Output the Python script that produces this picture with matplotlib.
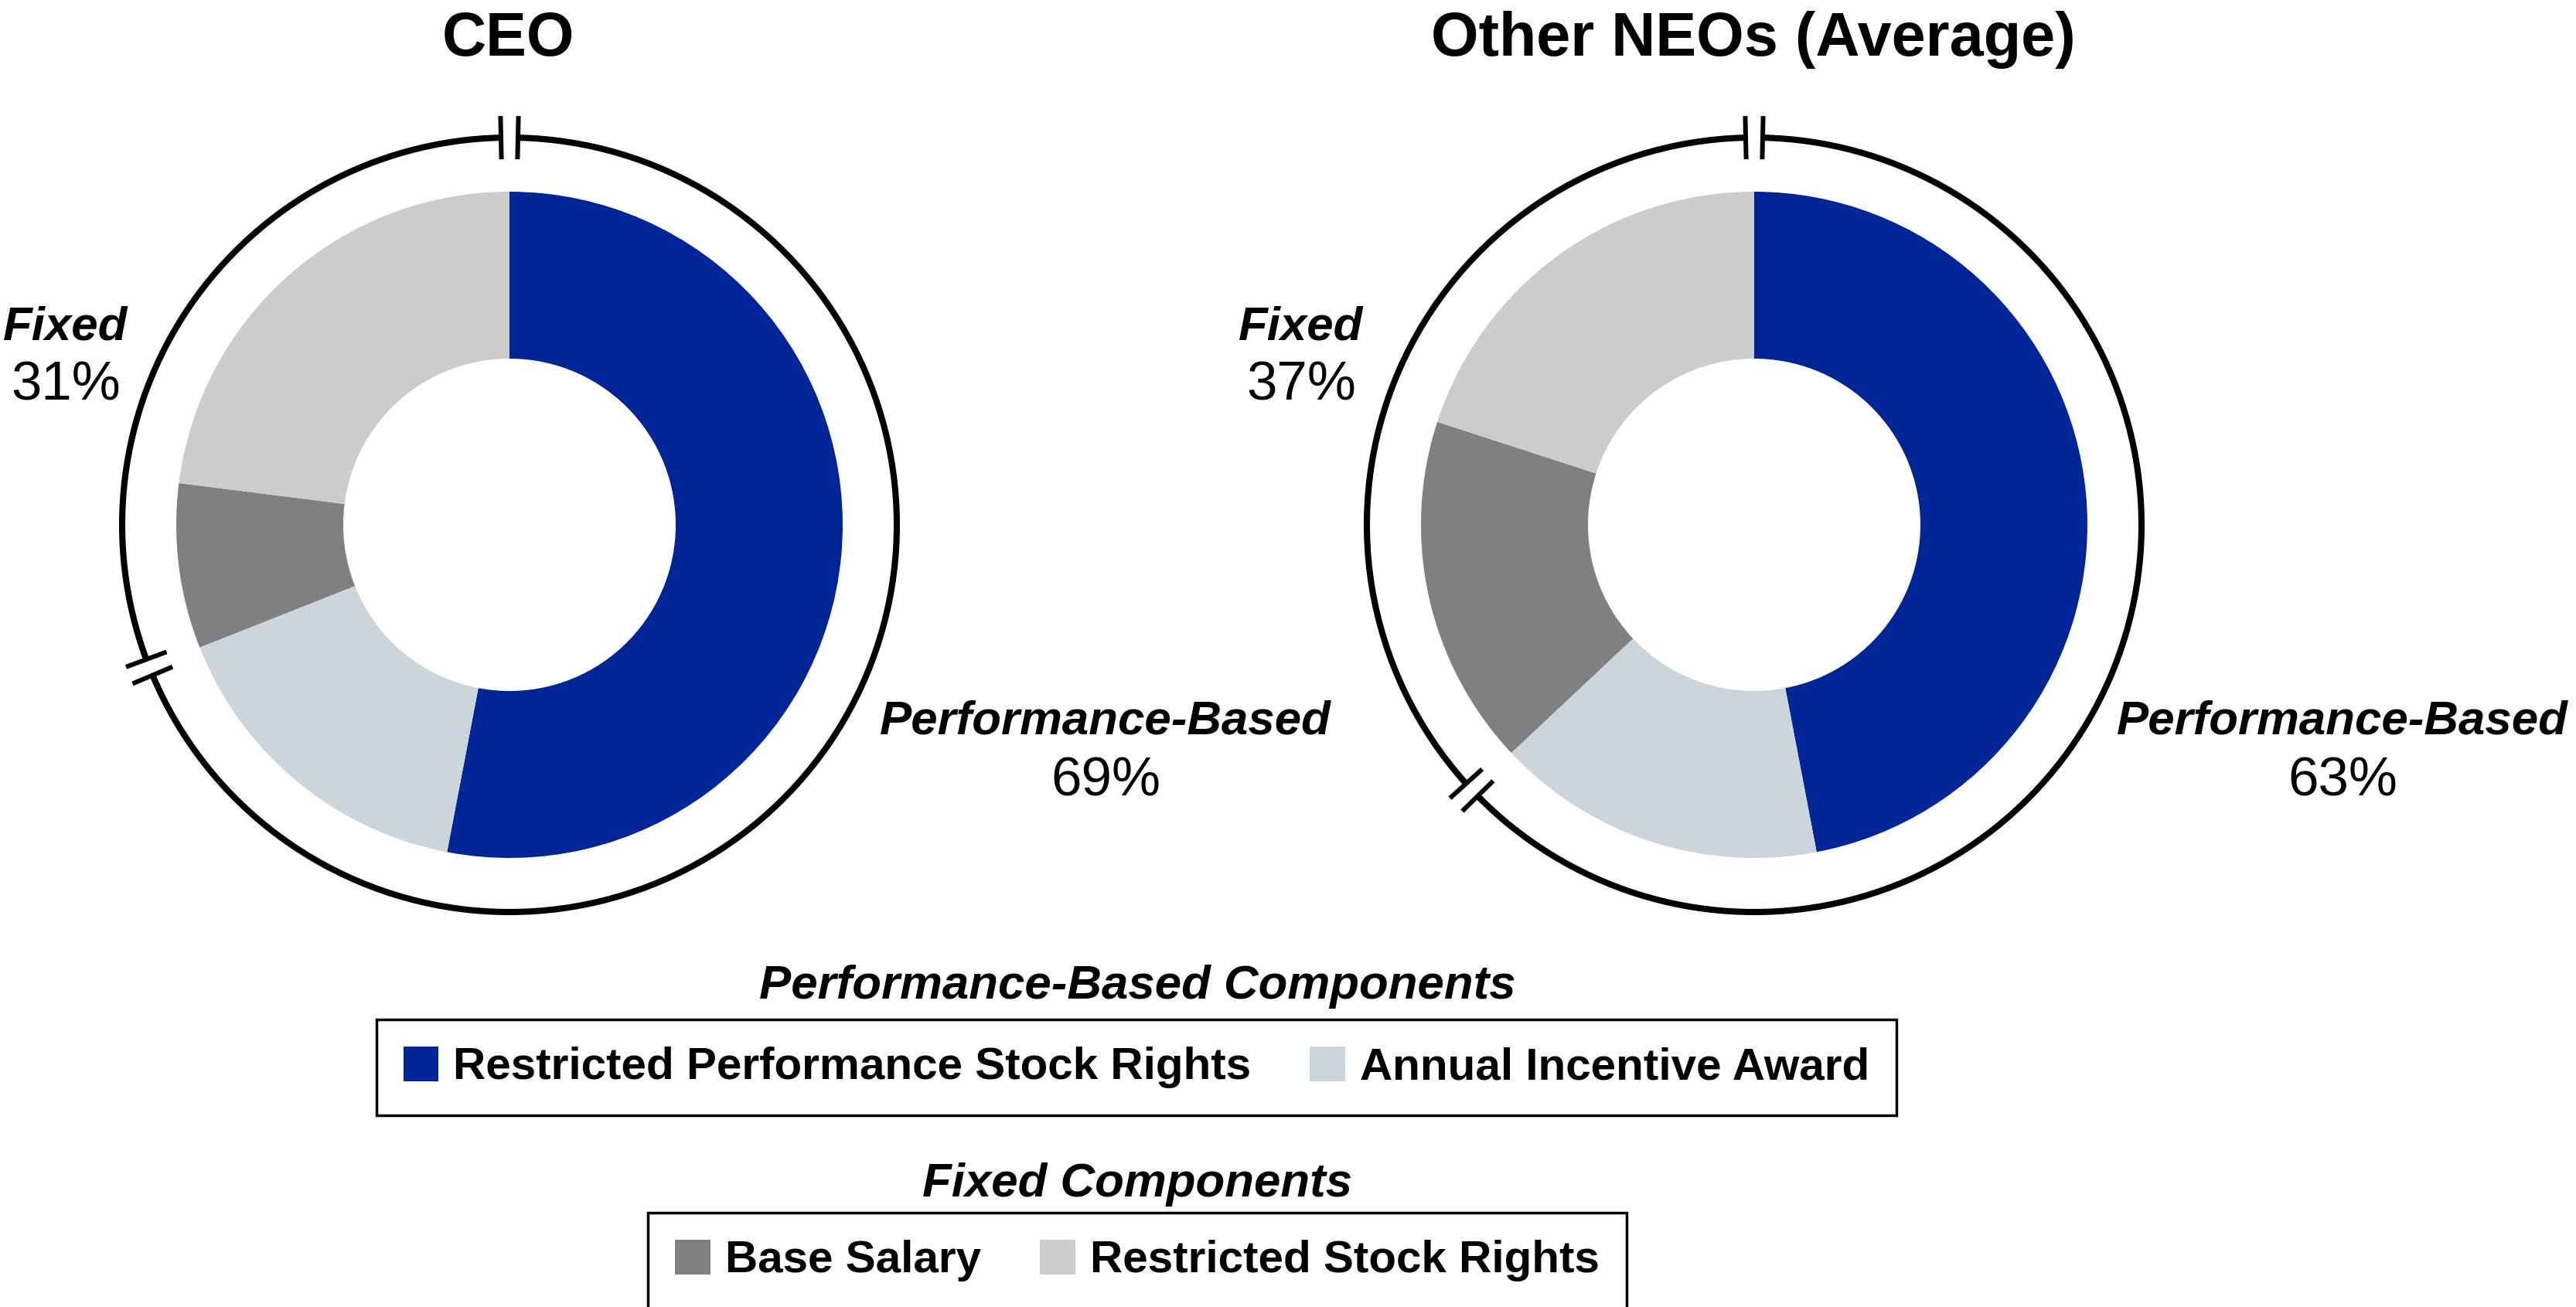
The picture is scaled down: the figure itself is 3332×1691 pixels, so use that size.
import numpy as np
import matplotlib.pyplot as plt
from matplotlib.patches import Arc, Patch

plt.rcParams['font.family'] = ['Liberation Sans', 'DejaVu Sans']

W, H = 3332, 1691

titles = ['CEO', 'Other NEOs (Average)']
components = ['Restricted Performance Stock Rights', 'Annual Incentive Award',
              'Base Salary', 'Restricted Stock Rights']
colors = ['#002596', '#CCD4DC', '#808080', '#CCCCCC']
ceo_values = [53, 16, 8, 23]
neo_values = [47, 16, 17, 20]
perf_pct = [69, 63]
fixed_pct = [31, 37]

fig = plt.figure(figsize=(W / 100, H / 100), dpi=100)
ax = fig.add_axes([0, 0, 1, 1])

centers = [(659, 1012), (2269, 1012)]
r_out, r_in, r_ring = 431, 215, 501
gap = np.degrees(11 / r_ring)
mark = 28

for vals, (cx, cy) in zip([ceo_values, neo_values], centers):
    ax.pie(vals, colors=colors, startangle=90, counterclock=False,
           radius=r_out, center=(cx, cy),
           wedgeprops=dict(width=r_out - r_in, linewidth=0))
    perf = (vals[0] + vals[1]) / sum(vals)
    brk = 90 - 360 * perf
    ax.add_patch(Arc((cx, cy), 2 * r_ring, 2 * r_ring, theta1=brk + gap,
                     theta2=90 - gap, lw=5.8, color='black'))
    ax.add_patch(Arc((cx, cy), 2 * r_ring, 2 * r_ring, theta1=90 + gap,
                     theta2=brk + 360 - gap, lw=5.8, color='black'))
    for a in [90 - gap, 90 + gap, brk - gap, brk + gap]:
        t = np.radians(a)
        ax.plot([cx + (r_ring - mark) * np.cos(t), cx + (r_ring + mark) * np.cos(t)],
                [cy + (r_ring - mark) * np.sin(t), cy + (r_ring + mark) * np.sin(t)],
                color='black', lw=4.3, solid_capstyle='butt')

ax.set_xlim(0, W)
ax.set_ylim(0, H)
ax.set_aspect('equal')
ax.axis('off')

# titles
for t, (cx, cy) in zip(titles, centers):
    ax.text(cx - 1, 1619, t, ha='center', va='baseline', fontsize=57, fontweight='bold')

# group labels
fixed_x = [85, 1683]
perf_x = [1430, 3030]
for i in range(2):
    ax.text(fixed_x[i], 1251, 'Fixed', ha='center', va='baseline', fontsize=44.5,
            fontweight='bold', fontstyle='italic')
    ax.text(fixed_x[i], 1173, f'{fixed_pct[i]}%', ha='center', va='baseline', fontsize=51)
    ax.text(perf_x[i], 741, 'Performance-Based', ha='center', va='baseline', fontsize=44.5,
            fontweight='bold', fontstyle='italic')
    ax.text(perf_x[i], 661, f'{perf_pct[i]}%', ha='center', va='baseline', fontsize=51)

# legends
ax.text(1471, 399, 'Performance-Based Components', ha='center', va='baseline',
        fontsize=44.5, fontweight='bold', fontstyle='italic')
ax.text(1471, 143, 'Fixed Components', ha='center', va='baseline',
        fontsize=44.5, fontweight='bold', fontstyle='italic')

leg_kw = dict(loc='center', ncol=2, fancybox=False, handlelength=0.78, handleheight=0.81,
              handletextpad=0.33, columnspacing=1.3, borderpad=0.6,
              prop=dict(size=42, weight='bold'), edgecolor='black', framealpha=1)
h1 = [Patch(facecolor=colors[0], label=components[0]),
      Patch(facecolor=colors[1], label=components[1])]
h2 = [Patch(facecolor=colors[2], label=components[2]),
      Patch(facecolor=colors[3], label=components[3])]
leg1 = fig.legend(handles=h1, bbox_to_anchor=(1470 / W, 310 / H), **leg_kw)
leg2 = fig.legend(handles=h2, bbox_to_anchor=(1471 / W, 60 / H), **leg_kw)
for lg in [leg1, leg2]:
    lg.get_frame().set_linewidth(2.5)

fig.savefig('out.png', dpi=100)
